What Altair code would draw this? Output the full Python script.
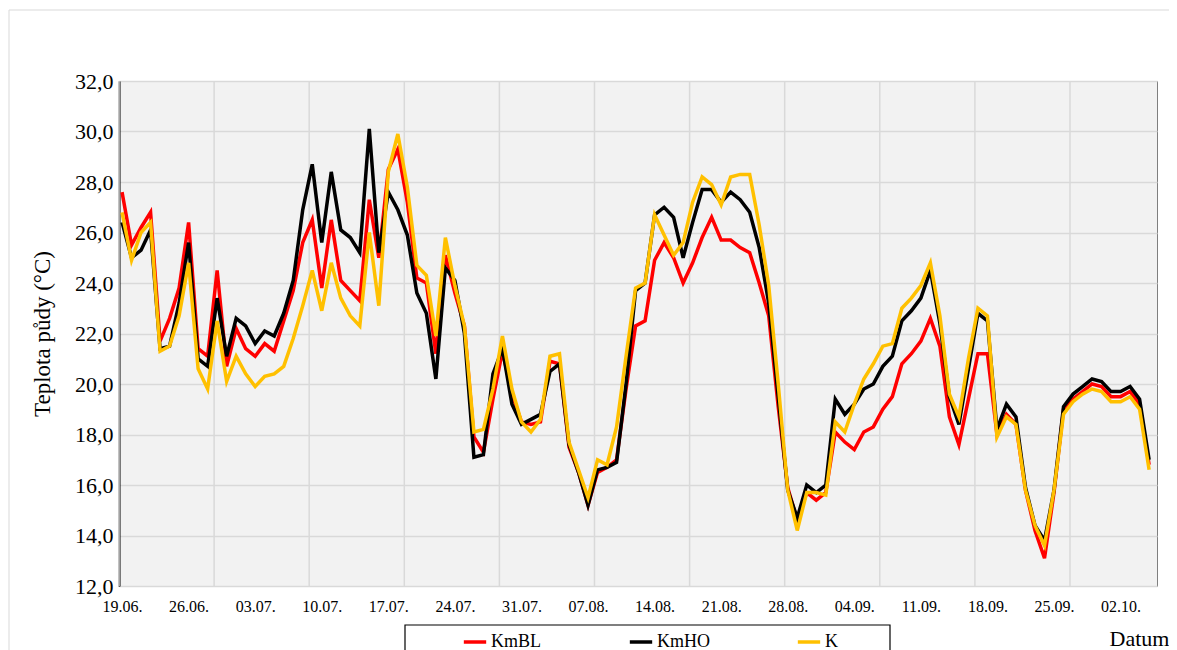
import altair as alt
import pandas as pd

START = "2020-06-19"
SERIES = ["KmBL", "KmHO", "K"]
COLORS = ["#FF0000", "#000000", "#FFC000"]

kmbl = [27.6, 25.5, 26.2, 26.8, 21.7, 22.6, 23.8, 26.4, 21.4, 21.1,
        24.5, 20.7, 22.2, 21.4, 21.1, 21.6, 21.3, 22.5, 23.7, 25.6,
        26.5, 23.8, 26.5, 24.1, 23.7, 23.3, 27.3, 25.0, 28.5, 29.3,
        27.2, 24.2, 24.0, 21.2, 25.1, 23.6, 22.3, 17.9, 17.3, 19.4,
        21.3, 19.6, 18.5, 18.4, 18.5, 20.9, 20.8, 17.5, 16.5, 15.2,
        16.5, 16.7, 17.0, 19.8, 22.3, 22.5, 24.9, 25.6, 25.0, 24.0,
        24.8, 25.8, 26.6, 25.7, 25.7, 25.4, 25.2, 24.0, 22.7, 19.1,
        15.9, 14.6, 15.7, 15.4, 15.7, 18.1, 17.7, 17.4, 18.1, 18.3,
        19.0, 19.5, 20.8, 21.2, 21.7, 22.6, 21.5, 18.7, 17.6, 19.4,
        21.2, 21.2, 18.0, 18.8, 18.4, 15.8, 14.2, 13.1, 15.7, 19.0,
        19.4, 19.7, 20.0, 19.9, 19.5, 19.5, 19.7, 19.2, 16.8]

kmho = [26.4, 25.0, 25.3, 26.1, 21.4, 21.5, 23.2, 25.6, 21.0, 20.7,
        23.4, 21.1, 22.6, 22.3, 21.6, 22.1, 21.9, 22.8, 24.1, 26.9,
        28.7, 25.6, 28.4, 26.1, 25.8, 25.2, 30.1, 25.2, 27.6, 26.9,
        25.9, 23.6, 22.8, 20.2, 24.6, 24.1, 22.0, 17.1, 17.2, 20.4,
        21.4, 19.2, 18.4, 18.6, 18.8, 20.5, 20.8, 17.6, 16.5, 15.2,
        16.6, 16.7, 16.9, 20.0, 23.7, 24.0, 26.7, 27.0, 26.6, 25.0,
        26.4, 27.7, 27.7, 27.2, 27.6, 27.3, 26.8, 25.4, 23.2, 19.5,
        15.8, 14.7, 16.0, 15.7, 16.0, 19.4, 18.8, 19.2, 19.8, 20.0,
        20.7, 21.1, 22.5, 22.9, 23.4, 24.5, 22.4, 19.5, 18.4, 20.6,
        22.8, 22.5, 18.2, 19.2, 18.7, 15.9, 14.4, 13.8, 15.8, 19.1,
        19.6, 19.9, 20.2, 20.1, 19.7, 19.7, 19.9, 19.4, 17.0]

k_vals = [26.8, 24.9, 26.0, 26.4, 21.3, 21.5, 22.7, 24.8, 20.6, 19.8,
          22.5, 20.1, 21.1, 20.4, 19.9, 20.3, 20.4, 20.7, 21.8, 23.1,
          24.5, 22.9, 24.8, 23.4, 22.7, 22.3, 26.0, 23.1, 28.4, 29.9,
          27.8, 24.7, 24.3, 21.9, 25.8, 23.9, 22.3, 18.1, 18.2, 19.8,
          21.9, 19.8, 18.5, 18.1, 18.6, 21.1, 21.2, 17.7, 16.6, 15.5,
          17.0, 16.8, 18.3, 21.1, 23.8, 24.0, 26.7, 25.9, 25.1, 25.6,
          27.2, 28.2, 27.9, 27.1, 28.2, 28.3, 28.3, 26.3, 23.9, 20.0,
          15.8, 14.2, 15.7, 15.7, 15.6, 18.5, 18.1, 19.2, 20.2, 20.8,
          21.5, 21.6, 23.0, 23.4, 23.9, 24.8, 22.7, 19.6, 18.7, 21.0,
          23.0, 22.7, 17.9, 18.7, 18.4, 15.8, 14.4, 13.6, 15.8, 18.8,
          19.3, 19.6, 19.8, 19.7, 19.3, 19.3, 19.5, 19.0, 16.6]

tick_dates = ["2020-06-19", "2020-06-26", "2020-07-03", "2020-07-10",
              "2020-07-17", "2020-07-24", "2020-07-31", "2020-08-07",
              "2020-08-14", "2020-08-21", "2020-08-28", "2020-09-04",
              "2020-09-11", "2020-09-18", "2020-09-25", "2020-10-02"]
y_ticks = [12, 14, 16, 18, 20, 22, 24, 26, 28, 30, 32]

DAY = 86400000


def ms(d):
    return int(pd.Timestamp(d, tz="UTC").value // 10**6)


t0 = ms(START)
dates = [t0 + i * DAY for i in range(len(kmbl))]
d0 = t0 - int(0.32 * DAY)
d1 = t0 + int(108.83 * DAY)
grid_vals = [d0 + k * 10 * DAY for k in range(11)]
tick_vals = [ms(d) for d in tick_dates]

rows = []
for name, vals in zip(SERIES, [kmbl, kmho, k_vals]):
    for t, v in zip(dates, vals):
        rows.append({"t": t, "series": name, "value": v})
df = pd.DataFrame(rows)

FONT = "Liberation Serif"
xscale = alt.Scale(type="utc", domain=[d0, d1])
yscale = alt.Scale(domain=[12, 32], nice=False)

xaxis = alt.Axis(values=tick_vals, labelExpr="utcFormat(datum.value, '%d.%m.')",
                 grid=False, ticks=False, domain=False, labelOverlap=False,
                 labelFont=FONT, labelFontSize=16, labelColor="black", labelPadding=12,
                 title="Datum", titleFont=FONT, titleFontSize=22, titleFontWeight="normal",
                 titleColor="black", titleX=1020, titleY=52, titleAlign="center",
                 titleBaseline="middle")
yaxis = alt.Axis(values=y_ticks, labelExpr="replace(format(datum.value, '.1f'), '.', ',')",
                 grid=True, gridColor="#D9D9D9", gridWidth=1.5, ticks=False,
                 domainColor="black", domainWidth=2,
                 labelFont=FONT, labelFontSize=22, labelColor="black", labelPadding=6,
                 title="Teplota půdy  (°C)", titleFont=FONT, titleFontSize=23,
                 titleFontWeight="normal", titleColor="black", titleX=-77, titleY=252.5,
                 titleAngle=270, titleAlign="center", titleBaseline="middle")

color = alt.Color("series:N", scale=alt.Scale(domain=SERIES, range=COLORS),
                  legend=alt.Legend(title=None, orient="none", legendX=343, legendY=548,
                                    direction="horizontal", columnPadding=80, padding=0,
                                    symbolType="stroke", symbolStrokeWidth=3.5,
                                    symbolSize=500, labelFont=FONT, labelFontSize=18,
                                    labelColor="black", labelOffset=3))

one = pd.DataFrame({"a": [0]})
frame = alt.Chart(one).mark_rect(fillOpacity=0, stroke="#D9D9D9", strokeWidth=1).encode(
    x=alt.value(-110), x2=alt.value(1200), y=alt.value(-71), y2=alt.value(700))

grid = alt.Chart(pd.DataFrame({"g": grid_vals})).mark_rule(
    color="#D9D9D9", strokeWidth=1.5).encode(
    x=alt.X("g:T", scale=xscale, axis=xaxis))

lines = [
    alt.Chart(df).transform_filter(alt.datum.series == s).mark_line(strokeWidth=3.5).encode(
        x=alt.X("t:T", scale=xscale, axis=xaxis),
        y=alt.Y("value:Q", scale=yscale, axis=yaxis),
        color=color)
    for s in SERIES
]

box = alt.Chart(one).mark_rect(fill="white", stroke="black", strokeWidth=1.2).encode(
    x=alt.value(286), x2=alt.value(771), y=alt.value(544), y2=alt.value(620))

chart = alt.layer(frame, grid, *lines, box).properties(
    width=1038, height=505,
    autosize=alt.AutoSizeParams(type="none"),
    padding={"left": 111, "top": 73, "right": 12, "bottom": 82},
).configure_view(fill="#F2F2F2", stroke="#7F7F7F", strokeWidth=1)

chart.save("out.html", embed_options={"renderer": "svg", "actions": False})
